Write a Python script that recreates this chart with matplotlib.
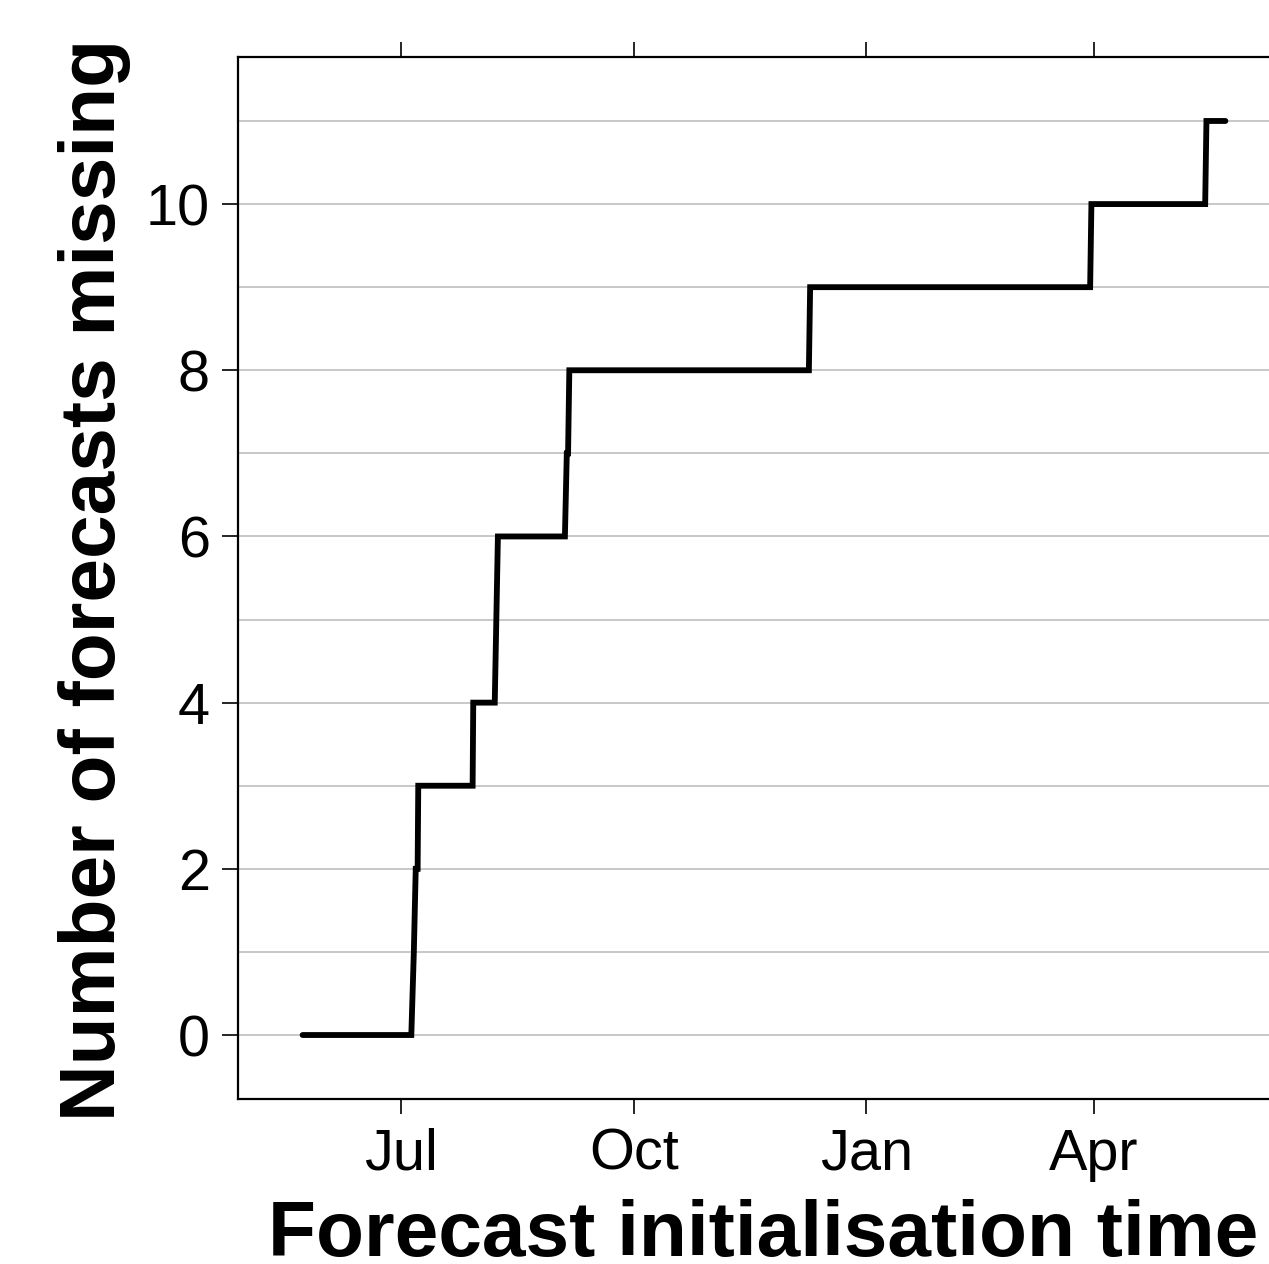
import matplotlib
matplotlib.use("Agg")
import matplotlib.pyplot as plt
import matplotlib.dates as mdates
import numpy as np

plt.rcParams['font.family'] = ['Liberation Sans', 'DejaVu Sans']

# Forecast initialisation times and cumulative count of missing forecasts
init_times = [
    "2017-05-23T00:00", "2017-07-05T00:00", "2017-07-06T00:00", "2017-07-06T18:00",
    "2017-07-07T12:00", "2017-07-07T18:00", "2017-07-29T06:00", "2017-07-29T12:00",
    "2017-08-07T00:00", "2017-08-08T06:00", "2017-09-03T18:00", "2017-09-04T12:00",
    "2017-09-05T00:00", "2017-09-05T12:00", "2017-12-09T06:00", "2017-12-09T18:00",
    "2018-03-30T12:00", "2018-03-31T00:00", "2018-05-15T00:00", "2018-05-15T12:00",
    "2018-05-23T00:00",
]
n_missing = [0, 0, 1, 2, 2, 3, 3, 4, 4, 6, 6, 7, 7, 8, 8, 9, 9, 10, 10, 11, 11]

x_ticks = ["2017-07-01", "2017-10-01", "2018-01-01", "2018-04-01"]
x_tick_labels = ["Jul", "Oct", "Jan", "Apr"]
y_ticks = [0, 2, 4, 6, 8, 10]

t = np.array(init_times, dtype="datetime64[m]").astype("datetime64[ms]").astype(object)
xt = np.array(x_ticks, dtype="datetime64[D]").astype(object)

W, H = 1269, 1264
fig = plt.figure(figsize=(W / 100, H / 100), dpi=100)
left, right, bottom, top = 238, 1290, 1099, 57
ax = fig.add_axes([left / W, 1 - bottom / H, (right - left) / W, (bottom - top) / H])

for v in range(0, 12):
    ax.axhline(v, color="#c4c4c4", lw=1.3, zorder=1)

ax.plot(t, n_missing, color="black", lw=4.2, solid_capstyle="round",
        solid_joinstyle="miter", zorder=3)

tn = mdates.date2num(t)
span = tn[-1] - tn[0]
ax.set_xlim(tn[0] - 0.07 * span, tn[-1] + 0.07 * span)
ymin, ymax = min(n_missing), max(n_missing)
yr = ymax - ymin
ax.set_ylim(ymin - 0.07 * yr, ymax + 0.07 * yr)

ax.set_xticks(mdates.date2num(xt))
ax.set_xticklabels(x_tick_labels)
ax.set_yticks(y_ticks)
ax.tick_params(axis="x", which="both", top=True, bottom=True, direction="out",
               length=10.8, width=1.2, labelsize=41.5, pad=10, color="black")
ax.tick_params(axis="y", left=True, right=False, direction="out",
               length=11.5, width=1.2, labelsize=41.5, pad=8.9, color="black")

for s in ax.spines.values():
    s.set_linewidth(1.6)
    s.set_color("black")

ax.set_xlabel("Forecast initialisation time", fontsize=56.5, fontweight="bold")
ax.set_ylabel("Number of forecasts missing", fontsize=56.5, fontweight="bold")
ax.xaxis.set_label_coords((763 - left) / (right - left), (bottom - 1199) / (bottom - top))
ax.yaxis.set_label_coords((131 - left) / (right - left), (bottom - 580) / (bottom - top))

fig.savefig("out.png", dpi=100)
